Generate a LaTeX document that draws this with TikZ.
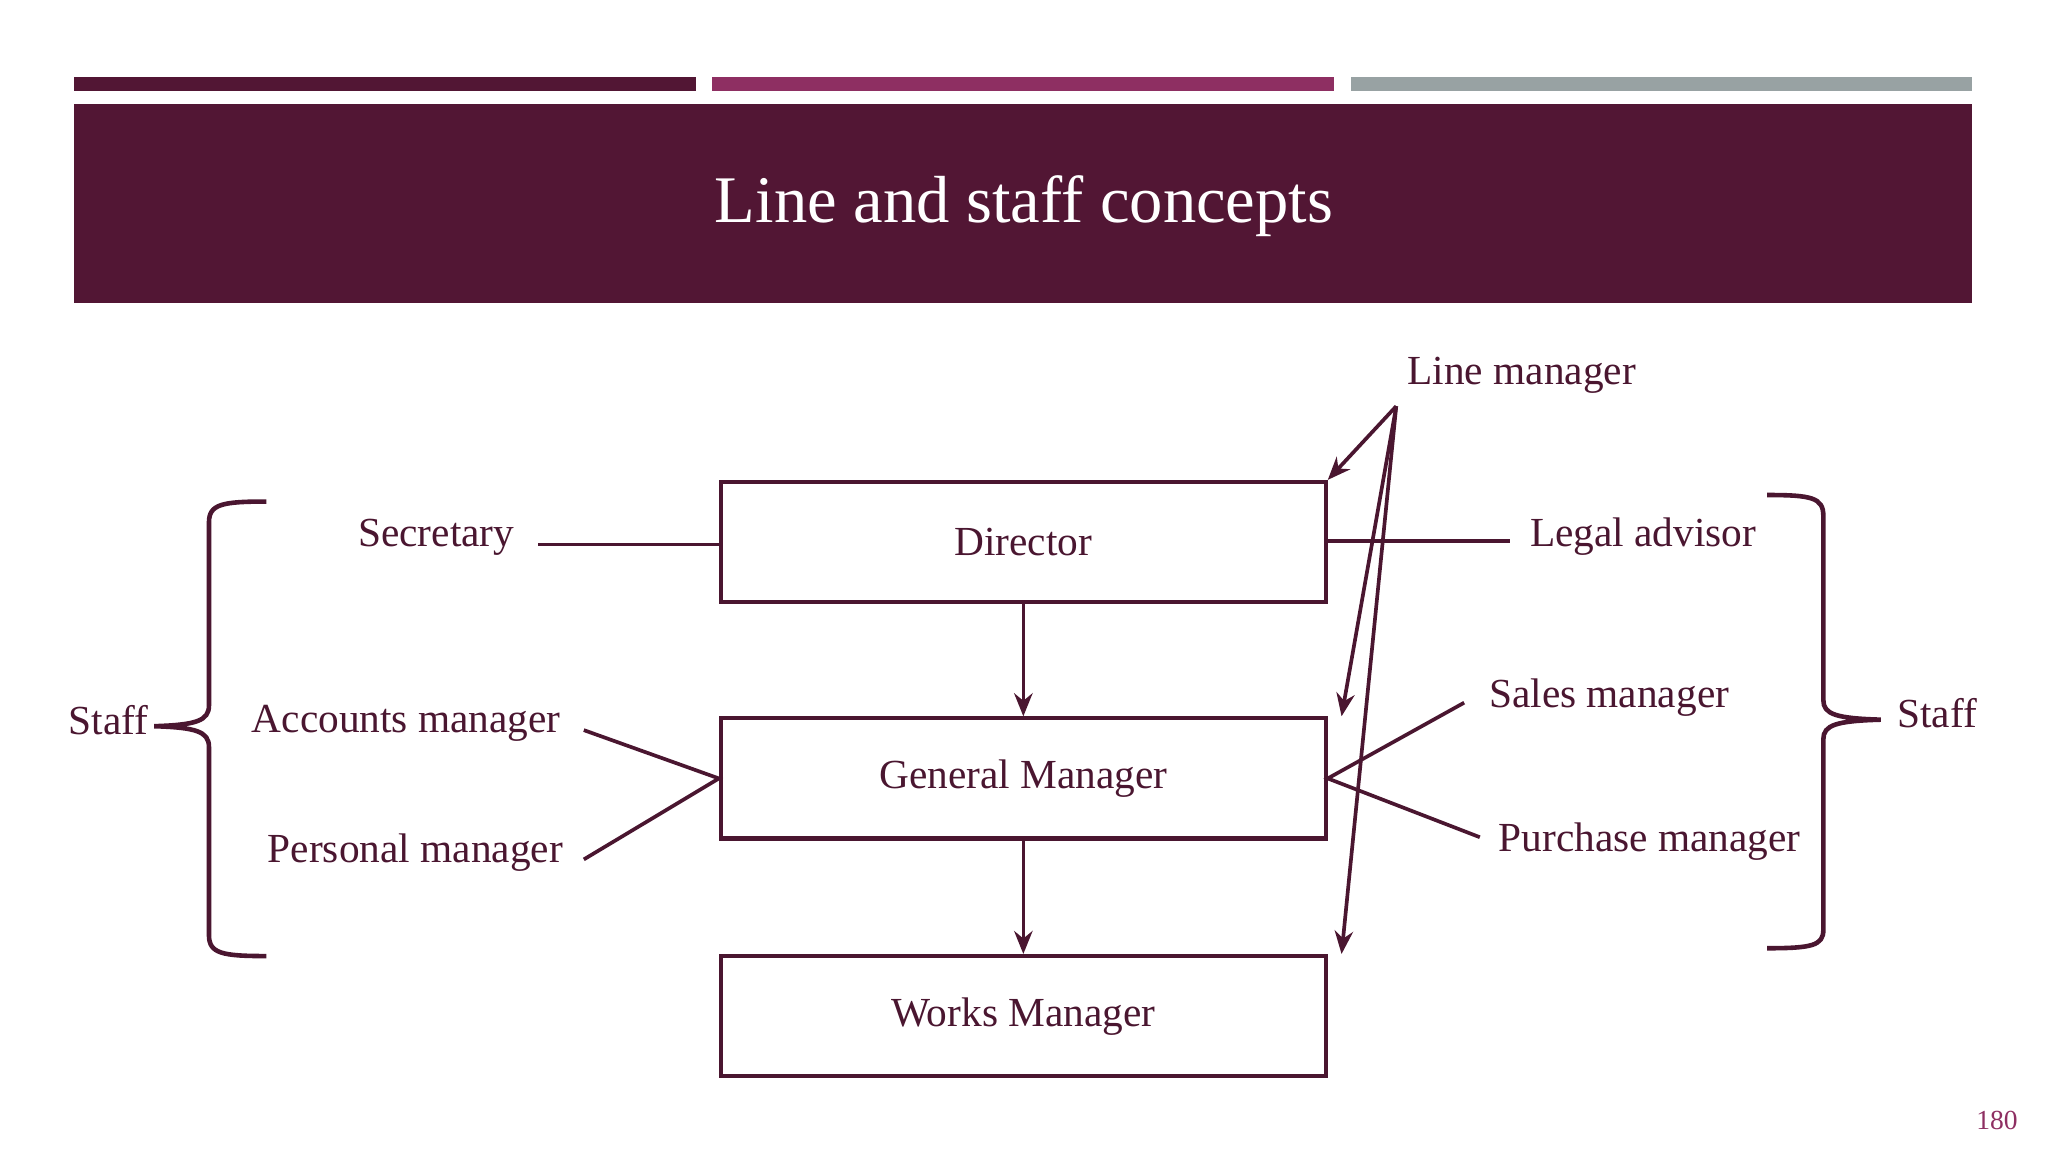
\documentclass[tikz,border=0pt]{standalone}
\usepackage{fontspec}
\setmainfont{Liberation Serif}
\usetikzlibrary{arrows.meta}
\definecolor{maroon}{HTML}{521634}
\definecolor{magen}{HTML}{8E2F62}
\definecolor{greyb}{HTML}{98A2A3}
\definecolor{ink}{HTML}{4A1630}
\tikzset{
 box/.style={draw=ink,line width=0.9pt,minimum width=463*0.01cm,minimum height=92*0.01cm,font=\fontsize{9}{10}\selectfont,text=ink},
 lbl/.style={font=\fontsize{9}{10}\selectfont,text=ink,inner sep=0},
 ln/.style={draw=ink,line width=0.8pt},
 arr/.style={ln,-{Stealth[length=5pt,width=4pt]}}
}
\begin{document}
\begin{tikzpicture}[x=0.01cm,y=-0.01cm]
\useasboundingbox (0,0) rectangle (1568,882);
\fill[white] (0,0) rectangle (1568,882);
\fill[maroon] (57,59) rectangle (533,70);
\fill[magen] (545,59) rectangle (1021,70);
\fill[greyb] (1034,59) rectangle (1510,70);
\fill[maroon] (57,80) rectangle (1510,232);
\node[text=white,font=\fontsize{14.5}{16}\selectfont] (title) at (784,158) {Line and staff concepts};
\node[box] (dir) at (783.5,415) {Director};
\node[box] (gm) at (783.5,596) {General Manager};
\node[box] (wm) at (783.5,778) {Works Manager};
\draw[arr] (dir.south) -- (gm.north);
\draw[arr] (gm.south) -- (wm.north);
\node[lbl] (lm) at (1165,287) {Line manager};
\coordinate (apex) at (1069,311);
\draw[arr] (apex) -- (dir.north east);
\draw[arr] (apex) -- ([xshift=3]gm.north east);
\draw[arr] (apex) -- ([xshift=3]wm.north east);
\node[lbl] (sec) at (334,411) {Secretary};
\draw[ln] (412,417) -- (dir.west |- 0,417);
\node[lbl] (leg) at (1258,411) {Legal advisor};
\draw[ln] (dir.east |- 0,414) -- (1156,414);
\node[lbl] (acc) at (311,554) {Accounts manager};
\node[lbl] (per) at (318,653) {Personal manager};
\draw[ln] (447,559) -- (gm.west) -- (447,658);
\node[lbl] (sal) at (1232,534) {Sales manager};
\node[lbl] (pur) at (1263,644) {Purchase manager};
\draw[ln] (1121,538) -- (gm.east) -- (1133,641);
\draw[ln,line width=1pt] (204,384) .. controls (170,384) and (160,386) .. (160,400) -- (160,540) .. controls (160,552) and (150,555) .. (118,556) .. controls (150,557) and (160,560) .. (160,572) -- (160,716) .. controls (160,730) and (170,732) .. (204,732);
\node[lbl] (stl) at (83,551) {Staff};
\draw[ln,line width=1pt] (1353,379) .. controls (1387,379) and (1396,381) .. (1396,395) -- (1396,536) .. controls (1396,547) and (1406,550) .. (1440,551) .. controls (1406,552) and (1396,555) .. (1396,566) -- (1396,712) .. controls (1396,724) and (1387,726) .. (1353,726);
\node[lbl] (str) at (1483,546) {Staff};
\node[text=magen,font=\fontsize{6}{7}\selectfont] (pg) at (1529,858) {180};
\end{tikzpicture}
\end{document}
